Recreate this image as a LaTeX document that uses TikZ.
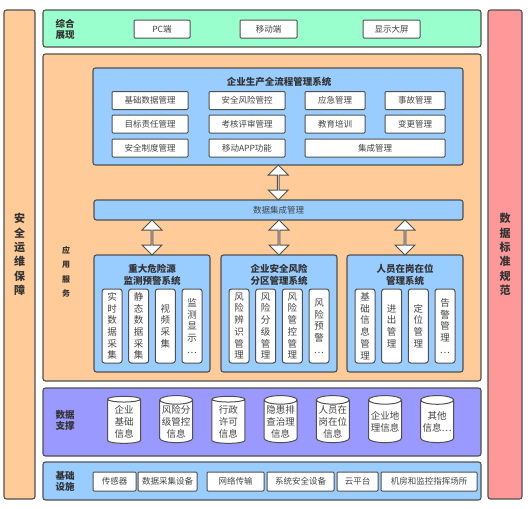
\documentclass[tikz,border=0pt]{standalone}
\usepackage{fontspec}
\setmainfont{Noto Sans CJK SC}
\usetikzlibrary{shapes.geometric,shapes.arrows,calc}
\definecolor{edge}{HTML}{505050}
\definecolor{ink}{HTML}{444444}
\definecolor{head}{HTML}{333333}
\definecolor{mint}{HTML}{99FFCC}
\definecolor{peach}{HTML}{FFCC99}
\definecolor{sky}{HTML}{99CCFF}
\definecolor{violet}{HTML}{9999FF}
\definecolor{rose}{HTML}{FF9999}
\tikzset{
  band/.style={draw=edge, rounded corners=2.5pt, line width=1.1pt, inner sep=0pt},
  greenband/.style={band, fill=mint},
  peachband/.style={band, fill=peach},
  skyband/.style={band, fill=sky},
  violetband/.style={band, fill=violet},
  roseband/.style={band, fill=rose},
  sidebar/.style={align=center, text=head, font=\bfseries\fontsize{11}{14.4}\selectfont},
  tag/.style={align=center, text=head, font=\bfseries\fontsize{9.5}{11}\selectfont},
  headline/.style={align=center, text=head, font=\bfseries\fontsize{9.5}{12}\selectfont},
  cell/.style={draw=edge, fill=white, line width=1pt, rounded corners=1pt, minimum height=18pt, inner sep=0pt, text=ink, font=\fontsize{8.5}{10}\selectfont},
  vcell/.style={cell, rounded corners=2.5pt, minimum width=20pt, minimum height=74pt, align=center, font=\fontsize{9.5}{11.7}\selectfont},
  db/.style={cylinder, shape border rotate=90, aspect=0.3, draw=edge, fill=white, line width=1pt, minimum width=33pt, minimum height=47pt, inner sep=0pt, align=center, text=ink, font=\fontsize{9.5}{12}\selectfont},
  twoway/.style={double arrow, shape border rotate=90, draw=edge, fill=white, line width=1pt, inner sep=0pt, minimum width=20pt, double arrow head extend=5.5pt}
}
\begin{document}
\begin{tikzpicture}[x=1pt, y=-1pt]
  \useasboundingbox (0,0) rectangle (528,509);
  % side bars
  \node[peachband, minimum width=31pt, minimum height=489pt, sidebar] (ops) at (19.5,254.5) {安\\全\\运\\维\\保\\障};
  \node[roseband, minimum width=34pt, minimum height=489pt, sidebar] (norms) at (505,254.5) {数\\据\\标\\准\\规\\范};

  % display layer
  \node[greenband, minimum width=438pt, minimum height=37pt] (show) at (262,28.5) {};
  \node[tag] (showtag) at (65,29) {综合\\展现};
  \node[cell, minimum width=56pt] (pc) at (162,29) {PC端};
  \node[cell, minimum width=57pt] (mobile) at (268.5,29) {移动端};
  \node[cell, minimum width=57pt] (screen) at (391.5,29) {显示大屏};

  % application layer
  \node[peachband, minimum width=438pt, minimum height=327pt] (app) at (262,217.5) {};
  \node[tag, font=\bfseries\fontsize{8}{14.3}\selectfont] (apptag) at (66,272) {应\\用\\服\\务};
  \node[skyband, minimum width=370pt, minimum height=97pt] (flow) at (278,116.5) {};
  \node[headline] (flowtitle) at (279,82) {企业生产全流程管理系统};
  \node[cell, minimum width=76pt] (c11) at (150,100.5) {基础数据管理};
  \node[cell, minimum width=76pt] (c12) at (247,100.5) {安全风险管控};
  \node[cell, minimum width=60pt] (c13) at (335,100.5) {应急管理};
  \node[cell, minimum width=60pt] (c14) at (415,100.5) {事故管理};
  \node[cell, minimum width=76pt] (c21) at (150,124) {目标责任管理};
  \node[cell, minimum width=76pt] (c22) at (247,124) {考核评审管理};
  \node[cell, minimum width=60pt] (c23) at (335,124) {教育培训};
  \node[cell, minimum width=60pt] (c24) at (415,124) {变更管理};
  \node[cell, minimum width=76pt] (c31) at (150,148) {安全制度管理};
  \node[cell, minimum width=76pt] (c32) at (247,148) {移动APP功能};
  \node[cell, minimum width=140pt] (c33) at (375,148) {集成管理};

  \node[skyband, minimum width=369pt, minimum height=20pt, text=ink, font=\fontsize{8.5}{10}\selectfont] (hub) at (278.5,210) {数据集成管理};

  \node[skyband, minimum width=116pt, minimum height=117pt] (sub1) at (152,313.5) {};
  \node[skyband, minimum width=116pt, minimum height=117pt] (sub2) at (279,313.5) {};
  \node[skyband, minimum width=116pt, minimum height=117pt] (sub3) at (405,313.5) {};
  \node[headline] (sub1title) at (152,274.5) {重大危险源\\监测预警系统};
  \node[headline] (sub2title) at (279,274.5) {企业安全风险\\分区管理系统};
  \node[headline] (sub3title) at (405,274.5) {人员在岗在位\\管理系统};

  \node[vcell] (s11) at (112,326) {实\\时\\数\\据\\采\\集};
  \node[vcell] (s12) at (138.7,326) {静\\态\\数\\据\\采\\集};
  \node[vcell] (s13) at (165.3,326) {视\\频\\采\\集};
  \node[vcell] (s14) at (192,326) {监\\测\\显\\示\\…};
  \node[vcell] (s21) at (239,326) {风\\险\\辨\\识\\管\\理};
  \node[vcell] (s22) at (265.7,326) {风\\险\\分\\级\\管\\理};
  \node[vcell] (s23) at (292.3,326) {风\\险\\管\\控\\管\\理};
  \node[vcell] (s24) at (319,326) {风\\险\\预\\警\\…};
  \node[vcell] (s31) at (365,326) {基\\础\\信\\息\\管\\理};
  \node[vcell] (s32) at (391.7,326) {进\\出\\管\\理};
  \node[vcell] (s33) at (418.3,326) {定\\位\\管\\理};
  \node[vcell] (s34) at (445,326) {告\\警\\管\\理\\…};

  \node[twoway, minimum height=35pt] (a0) at ($(flow.south)!0.5!(hub.north)$) {};
  \node[twoway, minimum height=35pt] (a1) at ($(sub1.north)!0.5!(sub1.north |- hub.south)$) {};
  \node[twoway, minimum height=35pt] (a2) at ($(sub2.north)!0.5!(sub2.north |- hub.south)$) {};
  \node[twoway, minimum height=35pt] (a3) at ($(sub3.north)!0.5!(sub3.north |- hub.south)$) {};

  % data layer
  \node[violetband, minimum width=438pt, minimum height=68pt] (data) at (262,422) {};
  \node[tag] (datatag) at (65,420.5) {数据\\支撑};
  \node[db] (d1) at (124,421.5) {企业\\基础\\信息};
  \node[db] (d2) at (176.2,421.5) {风险分\\级管控\\信息};
  \node[db] (d3) at (228.4,421.5) {行政\\许可\\信息};
  \node[db] (d4) at (280.6,421.5) {隐患排\\查治理\\信息};
  \node[db] (d5) at (332.8,421.5) {人员在\\岗在位\\信息};
  \node[db] (d6) at (385,421.5) {企业地\\理信息};
  \node[db] (d7) at (437.2,421.5) {其他\\信息…};

  % infrastructure layer
  \node[skyband, minimum width=438pt, minimum height=38pt] (infra) at (262,481) {};
  \node[tag] (infratag) at (65,481) {基础\\设施};
  \node[cell, minimum width=43pt, minimum height=19pt] (i1) at (114.5,481.5) {传感器};
  \node[cell, minimum width=59pt, minimum height=19pt] (i2) at (167.5,481.5) {数据采集设备};
  \node[cell, minimum width=57pt, minimum height=19pt] (i3) at (235.5,481.5) {网络传输};
  \node[cell, minimum width=67pt, minimum height=19pt] (i4) at (300.5,481.5) {系统安全设备};
  \node[cell, minimum width=41pt, minimum height=19pt] (i5) at (357.5,481.5) {云平台};
  \node[cell, minimum width=96pt, minimum height=19pt] (i6) at (429,481.5) {机房和监控指挥场所};
\end{tikzpicture}
\end{document}
